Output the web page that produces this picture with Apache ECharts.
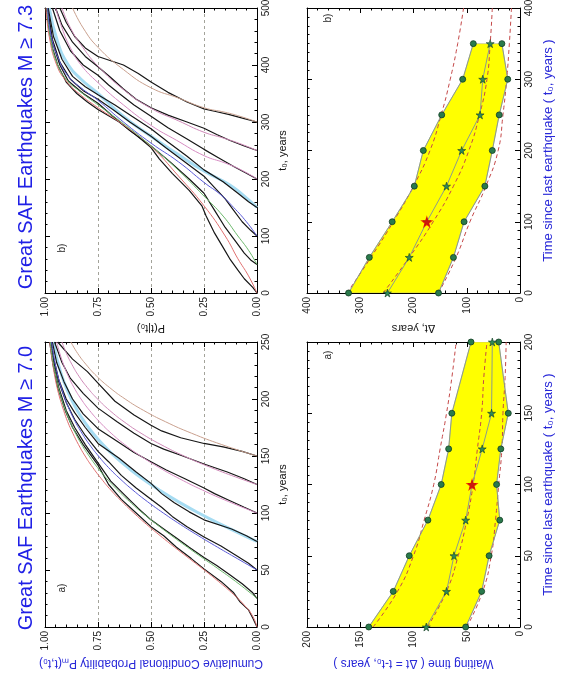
<!DOCTYPE html>
<html><head><meta charset="utf-8">
<script src="https://cdn.jsdelivr.net/npm/echarts@6/dist/echarts.min.js"></script>
<style>html,body{margin:0;padding:0;background:#fff}#c{width:564px;height:686px}</style>
</head><body><div id="c"></div>
<script>
// ---------- Panel a) cumulative conditional probability, M >= 7.0  ([t, P]) ----------
const cumA_red   = [[0,0],[10,0.022],[20,0.064],[30,0.119],[40,0.182],[50,0.249],[60,0.319],[70,0.389],[80,0.456],[90,0.521],[100,0.581],[110,0.637],[120,0.689],[130,0.734],[140,0.775],[150,0.811],[160,0.842],[170,0.869],[180,0.893],[190,0.912],[200,0.929],[210,0.943],[220,0.954],[230,0.963],[240,0.971],[250,0.977]];
const cumA_green = [[25,0],[30,0.032],[40,0.101],[50,0.175],[60,0.252],[70,0.328],[80,0.402],[90,0.473],[100,0.540],[110,0.601],[120,0.657],[130,0.708],[140,0.753],[150,0.792],[160,0.827],[170,0.856],[180,0.882],[190,0.903],[200,0.922],[210,0.937],[220,0.949],[230,0.960],[240,0.968],[250,0.975]];
const cumA_blue  = [[50,0],[60,0.093],[70,0.186],[80,0.276],[90,0.362],[100,0.442],[110,0.517],[120,0.585],[130,0.646],[140,0.701],[150,0.748],[160,0.790],[170,0.826],[180,0.857],[190,0.883],[200,0.905],[210,0.923],[220,0.939],[230,0.951],[240,0.961],[250,0.969]];
const cumA_lblue = [[75,0],[80,0.058],[90,0.170],[100,0.275],[110,0.372],[120,0.460],[130,0.540],[140,0.610],[150,0.673],[160,0.727],[170,0.774],[180,0.814],[190,0.848],[200,0.876],[210,0.900],[220,0.920],[230,0.936],[240,0.950],[250,0.960]];
const cumA_pink1 = [[100,0],[110,0.134],[120,0.256],[130,0.365],[140,0.463],[150,0.549],[160,0.624],[170,0.688],[180,0.743],[190,0.790],[200,0.830],[210,0.863],[220,0.890],[230,0.912],[240,0.930],[250,0.945]];
const cumA_pink2 = [[125,0],[130,0.077],[140,0.219],[150,0.344],[160,0.453],[170,0.547],[180,0.627],[190,0.695],[200,0.752],[210,0.800],[220,0.840],[230,0.872],[240,0.899],[250,0.920]];
const cumA_brown = [[150,0],[160,0.166],[170,0.309],[180,0.431],[190,0.535],[200,0.622],[210,0.695],[220,0.756],[230,0.805],[240,0.846],[250,0.878]];
const cumA_blk0   = [[0,0],[8,0.02],[15,0.04],[22,0.08],[30,0.11],[40,0.17],[51,0.25],[60,0.31],[70,0.38],[80,0.44],[88,0.50],[100,0.57],[112,0.64],[125,0.70],[142,0.75],[160,0.82],[175,0.87],[190,0.905],[210,0.94],[230,0.962],[250,0.978]];
const cumA_blk25  = [[25,0],[30,0.02],[38,0.07],[46,0.13],[54,0.19],[61,0.25],[70,0.32],[78,0.38],[86,0.44],[94,0.50],[104,0.56],[115,0.62],[128,0.69],[144,0.75],[160,0.81],[175,0.86],[190,0.90],[210,0.935],[230,0.96],[250,0.975]];
const cumA_blk50  = [[50,0],[56,0.04],[63,0.10],[71,0.17],[79,0.25],[88,0.33],[97,0.40],[105,0.45],[112,0.50],[122,0.57],[133,0.64],[145,0.70],[154,0.75],[168,0.81],[182,0.86],[197,0.90],[215,0.935],[232,0.958],[250,0.972]];
const cumA_blk75  = [[75,0],[80,0.05],[86,0.12],[94,0.25],[101,0.32],[109,0.39],[117,0.45],[126,0.50],[136,0.57],[148,0.65],[161,0.75],[175,0.81],[188,0.86],[200,0.90],[217,0.935],[234,0.957],[250,0.97]];
const cumA_blk100 = [[100,0],[105,0.06],[111,0.13],[117,0.20],[122,0.25],[130,0.34],[138,0.43],[145,0.50],[153,0.58],[163,0.66],[174,0.75],[187,0.82],[200,0.87],[215,0.91],[232,0.945],[250,0.965]];
const cumA_blk125 = [[125,0],[130,0.06],[136,0.14],[143,0.25],[150,0.35],[156,0.44],[161,0.50],[170,0.58],[180,0.66],[192,0.75],[205,0.82],[218,0.88],[232,0.92],[250,0.955]];
const cumA_blk150 = [[150,0],[154,0.07],[158,0.16],[161,0.25],[166,0.36],[172,0.45],[177,0.50],[186,0.58],[198,0.67],[214,0.75],[224,0.80],[235,0.87],[250,0.94]];

// ---------- Panel b) cumulative conditional probability, M >= 7.3  ([t, P]) ----------
const cumB_red   = [[0,0],[30,0.04],[60,0.09],[100,0.15],[153,0.25],[205,0.37],[257,0.50],[295,0.63],[325,0.75],[350,0.84],[372,0.90],[400,0.945],[450,0.98],[500,0.995]];
const cumB_green = [[50,0],[75,0.04],[100,0.09],[135,0.16],[170,0.25],[215,0.37],[258,0.50],[297,0.63],[330,0.75],[355,0.84],[375,0.90],[405,0.945],[450,0.975],[500,0.99]];
const cumB_blue  = [[100,0],[125,0.05],[150,0.11],[172,0.17],[194,0.25],[230,0.37],[263,0.50],[300,0.63],[338,0.75],[360,0.83],[380,0.89],[410,0.935],[450,0.97],[500,0.988]];
const cumB_lblue = [[150,0],[170,0.06],[190,0.13],[214,0.25],[245,0.38],[275,0.50],[310,0.63],[350,0.75],[375,0.83],[400,0.89],[440,0.94],[500,0.98]];
const cumB_pink1 = [[200,0],[215,0.07],[228,0.15],[241,0.25],[268,0.38],[294,0.50],[330,0.63],[369,0.75],[400,0.83],[430,0.88],[465,0.92],[500,0.95]];
const cumB_pink2 = [[250,0],[262,0.08],[272,0.16],[282,0.25],[302,0.37],[324,0.50],[357,0.63],[398,0.75],[430,0.82],[465,0.88],[500,0.92]];
const cumB_brown = [[300,0],[310,0.08],[317,0.15],[325,0.25],[342,0.37],[360,0.50],[392,0.63],[431,0.75],[465,0.82],[500,0.87]];
const cumB_blk0   = [[0,0],[10,0.02],[25,0.06],[40,0.09],[58,0.125],[80,0.16],[105,0.20],[135,0.24],[153,0.26],[180,0.32],[210,0.40],[235,0.46],[255,0.50],[280,0.58],[300,0.65],[322,0.75],[335,0.80],[350,0.85],[370,0.90],[400,0.94],[430,0.965],[460,0.98],[500,0.995]];
const cumB_blk50  = [[50,0],[58,0.03],[70,0.06],[90,0.10],[115,0.15],[145,0.20],[175,0.25],[200,0.32],[230,0.41],[258,0.50],[285,0.60],[310,0.68],[333,0.75],[350,0.82],[372,0.89],[400,0.93],[440,0.965],[500,0.99]];
const cumB_blk100 = [[100,0],[110,0.03],[125,0.07],[145,0.11],[165,0.15],[185,0.20],[205,0.25],[230,0.34],[255,0.43],[275,0.50],[300,0.60],[322,0.68],[340,0.75],[355,0.82],[375,0.88],[405,0.93],[445,0.965],[500,0.988]];
const cumB_blk150 = [[150,0],[160,0.04],[175,0.09],[195,0.16],[216,0.25],[240,0.33],[265,0.42],[288,0.50],[310,0.59],[330,0.67],[348,0.75],[362,0.81],[380,0.87],[410,0.92],[450,0.96],[500,0.985]];
const cumB_blk200 = [[200,0],[210,0.05],[222,0.11],[237,0.18],[252,0.25],[270,0.33],[290,0.42],[310,0.50],[330,0.58],[350,0.65],[365,0.70],[382,0.75],[400,0.82],[425,0.88],[460,0.93],[500,0.965]];
const cumB_blk250 = [[250,0],[258,0.06],[268,0.13],[278,0.19],[289,0.25],[300,0.33],[312,0.42],[325,0.50],[340,0.57],[358,0.63],[378,0.69],[397,0.75],[415,0.81],[440,0.87],[470,0.92],[500,0.95]];
const cumB_blk300 = [[300,0],[306,0.06],[313,0.13],[318,0.19],[323,0.25],[335,0.33],[352,0.42],[370,0.50],[385,0.56],[400,0.63],[415,0.75],[430,0.81],[450,0.86],[475,0.90],[500,0.93]];

// ---------- Waiting time panels ----------
const waitA_t0  = [0,25,50,75,100,125,150,200];
const waitA_low = [51,36,29,19,22,18,11,20];
const waitA_med = [88,69,62,51,45,35.5,26.7,26];
const waitA_up  = [142,119,104,86.5,74,67,64,46];
const waitA_fit_t0  = [0,25,50,75,100,125,150,175,200];
const waitA_fit_low = [50,35,27,23,20,17,16,14,13];
const waitA_fit_med = [87,69,58,50,44,40,36,34,31];
const waitA_fit_up  = [138,115,100,90,81,75,69,64,60];

const waitB_t0  = [0,50,100,150,200,250,300,350];
const waitB_low = [153,125,105,66,52,39,23,34];
const waitB_med = [249,208,175,138,109.5,75,70,56];
const waitB_up  = [322,283,240,198.5,181.6,147,107.6,87.7];
const waitB_fit_t0  = [0,50,100,150,200,250,300,350,400];
const waitB_fit_low = [153,120,94,64,41,32,25,20,16];
const waitB_fit_med = [257,208,163,125,96,76,62,56,52];
const waitB_fit_up  = [325,280,238,200,169,148,131,117,106];

const highlightT0 = 100;   // red star: present time since last event

// tick labels / texts
const titleA = 'Great SAF Earthquakes M \u2265 7.0';
const titleB = 'Great SAF Earthquakes M \u2265 7.3';

// ---------- build ----------
const FONT = '"Liberation Sans", Arial, Helvetica, sans-serif';
const BLUE = '#2828d8';
const BLACK = '#161616';
const STAR = 'path://M50 0 L61 35 L98 35 L68 57 L79 91 L50 70 L21 91 L32 57 L2 35 L39 35 Z';
const tick = {color:'#000', width:1};

const grids = [
  {left:45, top:8, width:212, height:285},
  {left:45, top:342, width:212, height:285},
  {left:307, top:8, width:213, height:285},
  {left:307, top:342, width:213, height:285}
];
const xCfg = [
  {max:1, interval:0.25, minor:5, grid:true, fmt:v=>v.toFixed(2), name:'P(t|t\u2080)', nameColor:'#111', nameSize:11, gap:30},
  {max:1, interval:0.25, minor:5, grid:true, fmt:v=>v.toFixed(2), name:'Cumulative Conditional Probability P\u2098(t,t\u2080)', nameColor:BLUE, nameSize:12, gap:30},
  {max:400, interval:100, minor:5, grid:false, fmt:null, name:'\u0394t, years', nameColor:'#111', nameSize:11, gap:30},
  {max:200, interval:50, minor:5, grid:false, fmt:null, name:'Waiting time ( \u0394t = t-t\u2080, years )', nameColor:BLUE, nameSize:12, gap:30}
];
const yCfg = [
  {max:500, interval:100, minor:5, name:'t\u2080, years', nameColor:'#111', nameSize:11, gap:20},
  {max:250, interval:50, minor:5, name:'t\u2080, years', nameColor:'#111', nameSize:11, gap:20},
  {max:400, interval:100, minor:8, name:'Time since last earthquake ( t\u2080, years )', nameColor:BLUE, nameSize:13, gap:22},
  {max:200, interval:50, minor:8, name:'Time since last earthquake ( t\u2080, years )', nameColor:BLUE, nameSize:13, gap:22}
];

const xAxes = [], yAxes = [];
grids.forEach((g, i) => {
  const xc = xCfg[i], yc = yCfg[i];
  const base = (pos, show) => ({
    gridIndex:i, type:'value', position:pos, min:0,
    axisLine:{show:true, onZero:false, lineStyle:{color:'#000', width:1}},
    axisTick:{show:true, inside:true, length:5, lineStyle:tick},
    minorTick:{show:true, length:2.5, lineStyle:tick},
    axisLabel:{show:show, rotate:90, margin:4, fontSize:10, color:'#222', fontFamily:FONT},
    splitLine:{show:false}
  });
  const xm = base('bottom', true);
  Object.assign(xm, {max:xc.max, interval:xc.interval, inverse:true, name:xc.name, nameLocation:'middle', nameRotate:180, nameGap:xc.gap,
    nameTextStyle:{fontSize:xc.nameSize, color:xc.nameColor, fontFamily:FONT}});
  xm.minorTick.splitNumber = xc.minor;
  if (xc.fmt) xm.axisLabel.formatter = xc.fmt;
  if (xc.grid) xm.splitLine = {show:true, lineStyle:{color:'#a3a39a', type:[3,3], width:1}};
  const xt = base('top', false);
  Object.assign(xt, {max:xc.max, interval:xc.interval, inverse:true});
  xt.minorTick.splitNumber = xc.minor;
  xAxes.push(xm, xt);

  const ym = base('right', true);
  Object.assign(ym, {max:yc.max, interval:yc.interval, name:yc.name, nameLocation:'middle', nameRotate:90, nameGap:yc.gap,
    nameTextStyle:{fontSize:yc.nameSize, color:yc.nameColor, fontFamily:FONT}});
  ym.minorTick.splitNumber = yc.minor;
  const yl = base('left', false);
  Object.assign(yl, {max:yc.max, interval:yc.interval});
  yl.minorTick.splitNumber = yc.minor;
  yAxes.push(ym, yl);
});

const series = [];
function cum(gi, curve, color, width, smooth, z) {
  series.push({type:'line', xAxisIndex:gi*2, yAxisIndex:gi*2, data:curve.map(p => [p[1], p[0]]),
    symbol:'none', smooth:smooth, lineStyle:{color:color, width:width}, z:z, silent:true});
}
// panel b (grid 0)
cum(0, cumB_lblue, '#a6dcf2', 3, true, 2);
[cumB_blk0, cumB_blk50, cumB_blk100, cumB_blk150, cumB_blk200, cumB_blk250, cumB_blk300].forEach(c => cum(0, c, BLACK, 1.2, false, 3));
cum(0, cumB_red, '#e07070', 1, true, 4);
cum(0, cumB_green, '#6cb86c', 1, true, 4);
cum(0, cumB_blue, '#5a5ad8', 1, true, 4);
cum(0, cumB_pink1, '#d68cc2', 1, true, 4);
cum(0, cumB_pink2, '#cf8ab8', 1, true, 4);
cum(0, cumB_brown, '#c9a08e', 1, true, 4);
// panel a (grid 1)
cum(1, cumA_lblue, '#a6dcf2', 3, true, 2);
[cumA_blk0, cumA_blk25, cumA_blk50, cumA_blk75, cumA_blk100, cumA_blk125, cumA_blk150].forEach(c => cum(1, c, BLACK, 1.2, false, 3));
cum(1, cumA_red, '#e07070', 1, true, 4);
cum(1, cumA_green, '#6cb86c', 1, true, 4);
cum(1, cumA_blue, '#5a5ad8', 1, true, 4);
cum(1, cumA_pink1, '#d68cc2', 1, true, 4);
cum(1, cumA_pink2, '#cf8ab8', 1, true, 4);
cum(1, cumA_brown, '#c9a08e', 1, true, 4);

function zip(dt, t0) { return t0.map((t, i) => [dt[i], t]); }
function waiting(gi, t0, low, med, up, ft0, flow, fmed, fup) {
  const xi = gi*2, yi = gi*2;
  const poly = zip(up, t0).concat(zip(low, t0).reverse());
  series.push({type:'custom', xAxisIndex:xi, yAxisIndex:yi, data:poly, encode:{x:0, y:1}, z:1, silent:true, clip:true,
    renderItem:function(params, api){
      if (params.dataIndex !== 0) return null;
      return {type:'polygon', shape:{points:poly.map(p => api.coord(p))}, style:{fill:'#ffff00', stroke:'#b4b48c', lineWidth:0.6}};
    }});
  [flow, fmed, fup].forEach(arr => series.push({type:'line', xAxisIndex:xi, yAxisIndex:yi, data:zip(arr, ft0), symbol:'none', smooth:true,
    lineStyle:{color:'#c44848', width:1, type:[4,3]}, z:3, silent:true}));
  const dot = {color:'#2a7a4c', borderColor:'#123d22', borderWidth:0.8};
  [low, up].forEach(arr => series.push({type:'line', xAxisIndex:xi, yAxisIndex:yi, data:zip(arr, t0), symbol:'circle', symbolSize:6,
    itemStyle:dot, lineStyle:{color:'#8c9c8c', width:1}, z:4, silent:true}));
  series.push({type:'line', xAxisIndex:xi, yAxisIndex:yi, data:zip(med, t0), symbol:STAR, symbolSize:8,
    itemStyle:{color:'#2f8a58', borderColor:'#123d22', borderWidth:0.6}, lineStyle:{color:'#8c9c8c', width:1}, z:4, silent:true});
  const k = t0.indexOf(highlightT0);
  series.push({type:'scatter', xAxisIndex:xi, yAxisIndex:yi, data:[[med[k], t0[k]]], symbol:STAR, symbolSize:13,
    itemStyle:{color:'#f00000'}, z:6, silent:true});
}
waiting(2, waitB_t0, waitB_low, waitB_med, waitB_up, waitB_fit_t0, waitB_fit_low, waitB_fit_med, waitB_fit_up);
waiting(3, waitA_t0, waitA_low, waitA_med, waitA_up, waitA_fit_t0, waitA_fit_low, waitA_fit_med, waitA_fit_up);

function vtext(x, y, text, size, color) {
  return {type:'text', x:x, y:y, rotation:Math.PI/2, z:10, silent:true,
    style:{text:text, fill:color, font:size + 'px ' + FONT, textAlign:'center', textVerticalAlign:'middle', align:'center', verticalAlign:'middle'}};
}

const chart = echarts.init(document.getElementById('c'), null, {renderer:'canvas'});
chart.setOption({
  animation:false,
  backgroundColor:'#ffffff',
  textStyle:{fontFamily:FONT},
  grid:grids.map(g => Object.assign({outerBoundsMode:'none', containLabel:false}, g)),
  xAxis:xAxes,
  yAxis:yAxes,
  series:series,
  graphic:[
    vtext(26, 147, titleB, 20, '#2020e6'),
    vtext(26, 488, titleA, 20, '#2020e6'),
    vtext(62, 248, 'b)', 10, '#222'),
    vtext(62, 588, 'a)', 10, '#222'),
    vtext(328, 18, 'b)', 10, '#222'),
    vtext(328, 355, 'a)', 10, '#222')
  ]
});
</script></body></html>
